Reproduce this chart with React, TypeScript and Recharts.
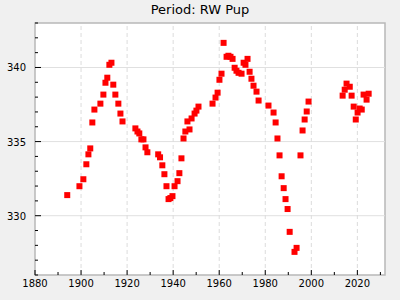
import { ScatterChart, Scatter, XAxis, YAxis, CartesianGrid, ReferenceLine, ReferenceArea } from 'recharts';

const years = [
  1894.0, 1899.3, 1901.0, 1902.3, 1903.2, 1904.0, 1904.9, 1905.8, 1908.4, 1909.7,
  1910.6, 1911.4, 1912.3, 1913.2, 1914.0, 1914.9, 1916.2, 1917.1, 1918.0, 1923.6,
  1924.5, 1925.3, 1926.2, 1927.1, 1928.0, 1928.8, 1933.5, 1934.3, 1935.3, 1936.2,
  1937.1, 1938.0, 1938.8, 1939.7, 1940.6, 1941.9, 1942.7, 1943.6, 1944.5, 1945.3,
  1946.2, 1947.1, 1948.0, 1949.3, 1950.1, 1951.0, 1957.1, 1958.4, 1959.3, 1960.1,
  1961.0, 1961.9, 1963.2, 1964.0, 1964.9, 1965.8, 1966.7, 1967.5, 1968.4, 1969.7,
  1970.6, 1971.4, 1972.3, 1973.2, 1974.0, 1974.9, 1976.2, 1977.1, 1981.4, 1983.6,
  1984.5, 1985.3, 1986.2, 1987.1, 1988.0, 1988.8, 1989.7, 1990.6, 1992.7, 1993.6,
  1995.3, 1996.2, 1997.1, 1998.0, 1998.8, 2013.6, 2014.5, 2015.3, 2016.7, 2017.5,
  2018.4, 2019.3, 2020.1, 2021.0, 2021.9, 2022.7, 2024.0, 2024.9,
];

const periods = [
  331.39, 331.99, 332.46, 333.47, 334.14, 334.54, 336.29, 337.16, 337.56, 338.17,
  338.97, 339.31, 340.18, 340.32, 338.84, 338.17, 337.56, 336.89, 336.36, 335.89,
  335.68, 335.55, 335.15, 335.15, 334.61, 334.28, 334.14, 333.94, 333.40, 332.80,
  331.99, 331.12, 331.19, 331.32, 331.99, 332.33, 332.87, 333.87, 335.21, 335.68,
  336.36, 335.82, 336.56, 336.89, 337.09, 337.36, 337.56, 337.97, 338.30, 339.17,
  339.58, 341.66, 340.72, 340.79, 340.72, 340.58, 339.98, 339.78, 339.64, 339.58,
  340.32, 340.18, 340.58, 339.71, 339.24, 338.77, 338.37, 337.77, 337.43, 336.96,
  336.29, 335.21, 334.07, 332.66, 331.86, 331.12, 330.45, 328.91, 327.56, 327.83,
  334.07, 335.75, 336.49, 337.03, 337.70, 338.10, 338.50, 338.91, 338.70, 338.10,
  337.36, 336.49, 336.96, 337.23, 337.16, 338.17, 337.83, 338.23,
];

const xTicks = [1880, 1890, 1900, 1910, 1920, 1930, 1940, 1950, 1960, 1970, 1980, 1990, 2000, 2010, 2020, 2030];
const yTicks = [326, 327, 328, 329, 330, 331, 332, 333, 334, 335, 336, 337, 338, 339, 340, 341, 342, 343];
const xGrid = [1900, 1920, 1940, 1960, 1980, 2000, 2020];
const yGrid = [330, 335, 340];

const data = years.map((year, i) => ({ year, period: periods[i] }));

const font = 'DejaVu Sans, sans-serif';

const XTick = (props: any) => {
  const { x, y, payload } = props;
  const major = payload.value % 20 === 0;
  return (
    <g>
      <line x1={x} x2={x} y1={y} y2={y - (major ? 5 : 3)} stroke="#000" />
      {major && (
        <text x={x} y={y + 12} textAnchor="middle" fontSize={10} fontFamily={font} fill="#000">
          {payload.value}
        </text>
      )}
    </g>
  );
};

const YTick = (props: any) => {
  const { x, y, payload } = props;
  const major = payload.value % 5 === 0;
  return (
    <g>
      <line x1={x} x2={x + (major ? 6 : 3)} y1={y} y2={y} stroke="#000" />
      {major && (
        <text x={x - 9} y={y + 4} textAnchor="end" fontSize={10} fontFamily={font} fill="#000">
          {payload.value}
        </text>
      )}
    </g>
  );
};

const Square = (props: any) => {
  const { cx, cy } = props;
  return <rect x={cx - 3} y={cy - 3} width={6} height={6} fill="#ff0000" />;
};

export default function App() {
  return (
    <div style={{ position: 'fixed', left: 0, top: 0, width: 400, height: 300, background: '#f0f0f0', fontFamily: font }}>
      <div style={{ position: 'absolute', top: 2, left: 0, width: 400, textAlign: 'center', fontSize: 13 }}>
        Period: RW Pup
      </div>
      <ScatterChart width={400} height={300} margin={{ top: 23, right: 15, bottom: 0, left: 0 }}>
        <CartesianGrid fill="#fff" horizontal={false} vertical={false} />
        <XAxis
          type="number"
          dataKey="year"
          domain={[1880, 2032]}
          ticks={xTicks}
          interval={0}
          allowDataOverflow
          height={25}
          tickSize={0}
          tickMargin={0}
          tickLine={false}
          axisLine={false}
          tick={<XTick />}
        />
        <YAxis
          type="number"
          dataKey="period"
          domain={[326, 343]}
          ticks={yTicks}
          interval={0}
          allowDataOverflow
          width={35}
          tickSize={0}
          tickMargin={0}
          tickLine={false}
          axisLine={false}
          tick={<YTick />}
        />
        {yGrid.map((v) => (
          <ReferenceLine key={'y' + v} y={v} stroke="#e0e0e0" />
        ))}
        {xGrid.map((v) => (
          <ReferenceLine key={'x' + v} x={v} stroke="#dcdcdc" strokeDasharray="4 3" />
        ))}
        <ReferenceArea x1={1880} x2={2032} y1={326} y2={343} fill="none" stroke="#b8b8b8" strokeWidth={1.5} fillOpacity={0} />
        <Scatter data={data} fill="#ff0000" shape={<Square />} isAnimationActive={false} />
      </ScatterChart>
    </div>
  );
}
